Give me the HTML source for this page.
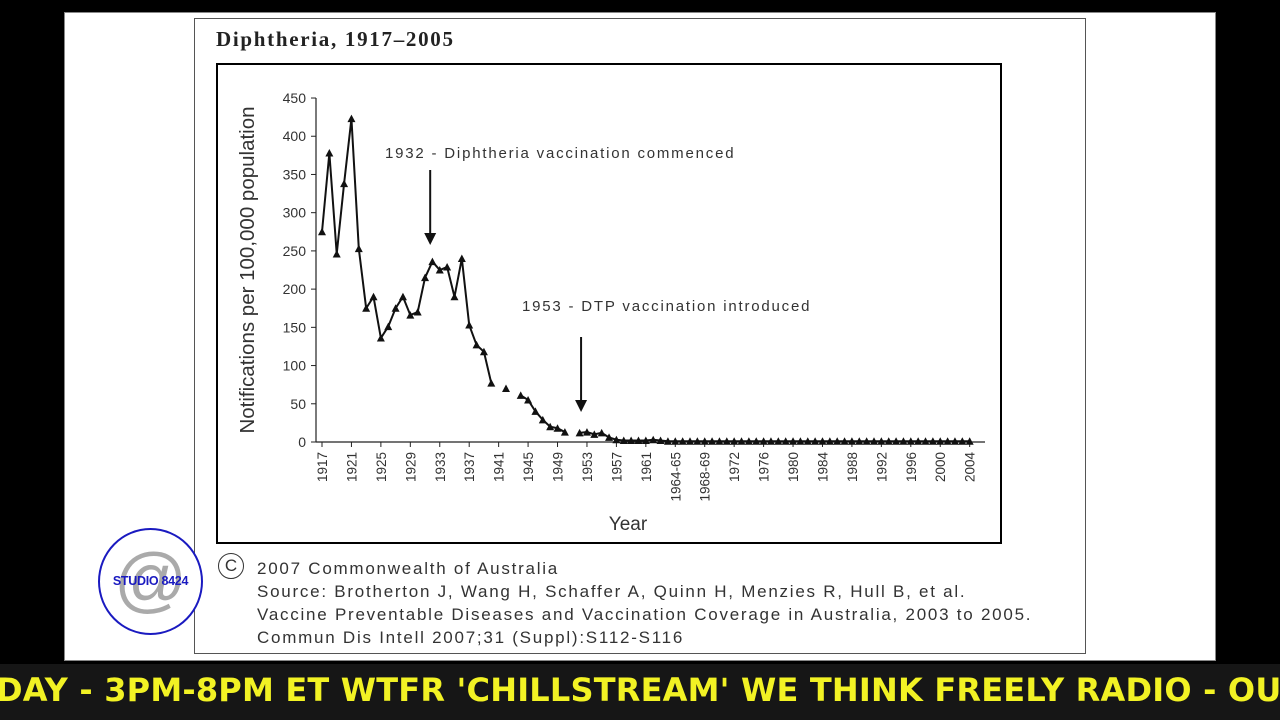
<!DOCTYPE html>
<html><head><meta charset="utf-8"><style>
body{margin:0;width:1280px;height:720px;background:#000;overflow:hidden;position:relative;font-family:"Liberation Sans",sans-serif}
.abs{position:absolute}
</style></head><body>
<div class="abs" style="left:64px;top:12px;width:1150px;height:647px;background:#fff;border:1px solid #888"></div>
<div class="abs" style="left:194px;top:18px;width:890px;height:634px;background:#fff;border:1px solid #555"></div>
<div class="abs" style="left:216px;top:27px;font-family:'Liberation Serif',serif;font-weight:bold;font-size:21px;letter-spacing:1.7px;color:#222">Diphtheria, 1917–2005</div>
<div class="abs" style="left:216px;top:63px;width:782px;height:477px;border:2.5px solid #000"></div>
<svg class="abs" style="left:0;top:0" width="1280" height="720" id="chart"></svg>
<div class="abs" style="left:257px;top:557px;font-size:17px;line-height:23px;color:#333;letter-spacing:1.75px">2007 Commonwealth of Australia<br>Source: Brotherton J, Wang H, Schaffer A, Quinn H, Menzies R, Hull B, et al.<br>Vaccine Preventable Diseases and Vaccination Coverage in Australia, 2003 to 2005.<br>Commun Dis Intell 2007;31 (Suppl):S112-S116</div>
<div class="abs" style="left:218px;top:553px;width:24px;height:24px;border:1.5px solid #333;border-radius:50%;text-align:center;line-height:24px;font-size:17px;color:#333">C</div>
<div class="abs" style="left:98px;top:528px;width:101px;height:103px;border:2px solid #1a1ac0;border-radius:50%;background:#fff">
<div class="abs" style="left:0;top:8px;width:101px;text-align:center;font-size:72px;color:#aaa;line-height:84px">@</div>
<div class="abs" style="left:0;top:44px;width:101px;text-align:center;font-size:12.5px;font-weight:bold;color:#1a1ac0;letter-spacing:-0.3px">STUDIO 8424</div></div>
<div class="abs" style="left:0;top:664px;width:1280px;height:56px;background:#161616"></div>
<div class="abs" style="left:-4px;top:668px;white-space:nowrap;font-family:'DejaVu Sans',sans-serif;font-weight:bold;font-size:32px;letter-spacing:0.2px;color:#f2f224;line-height:44px">DAY - 3PM-8PM ET WTFR 'CHILLSTREAM' WE THINK FREELY RADIO - OUR</div>
<script>
const categories=[];for(let y=1917;y<=2005;y++)categories.push(y);
const values=[275,378,246,338,423,253,175,190,136,151,175,190,166,170,215,236,225,229,190,240,153,127,118,77,null,70,null,61,55,40,29,20,18,13,null,12,13,10,12,6,3,2,2,2,2,3,2,1,1,1,1,1,1,1,1,1,1,1,1,1,1,1,1,1,1,1,1,1,1,1,1,1,1,1,1,1,1,1,1,1,1,1,1,1,1,1,1,1,1];
const yTicks=[0,50,100,150,200,250,300,350,400,450];
const xTickIdx=[0,4,8,12,16,20,24,28,32,36,40,44,48,52,56,60,64,68,72,76,80,84,88];
const xTickLabels=["1917","1921","1925","1929","1933","1937","1941","1945","1949","1953","1957","1961","1964-65","1968-69","1972","1976","1980","1984","1988","1992","1996","2000","2004"];
const svg=document.getElementById('chart');const NS='http://www.w3.org/2000/svg';
const X=i=>322+i*7.36, Y=v=>442-v*0.7644;
function mk(t,a,txt){const e=document.createElementNS(NS,t);for(const k in a)e.setAttribute(k,a[k]);if(txt!==undefined)e.textContent=txt;svg.appendChild(e);return e;}
let e=mk('line',{x1:316,y1:98,x2:316,y2:442,stroke:'#222','stroke-width':1.2});


e=mk('line',{x1:316,y1:442,x2:985,y2:442,stroke:'#222','stroke-width':1.2});


yTicks.forEach(v=>{mk('line',{x1:311,y1:Y(v),x2:316,y2:Y(v),stroke:'#222'});
e=mk('text',{x:306,y:Y(v)+5,'text-anchor':'end','font-size':14,fill:'#333'},v);

});
xTickIdx.forEach((i,k)=>{mk('line',{x1:X(i),y1:442,x2:X(i),y2:447,stroke:'#222'});
e=mk('text',{x:0,y:0,'text-anchor':'end','font-size':13.5,fill:'#333',transform:`translate(${X(i)+5},452) rotate(-90)`},xTickLabels[k]);

});
let segs=[],cur=[];values.forEach((v,i)=>{if(v===null){if(cur.length)segs.push(cur);cur=[];}else cur.push([X(i),Y(v)]);});if(cur.length)segs.push(cur);
segs.forEach(s=>{if(s.length>1){e=mk('polyline',{points:s.map(p=>p.join(',')).join(' '),fill:'none',stroke:'#111','stroke-width':2});

}});
values.forEach((v,i)=>{if(v===null)return;const x=X(i),y=Y(v);
e=mk('polygon',{points:`${x-4},${y+3.5} ${x+4},${y+3.5} ${x},${y-4}`,fill:'#111'});

});
e=mk('text',{x:0,y:0,'text-anchor':'middle','font-size':20.5,fill:'#333',transform:'translate(254,270) rotate(-90)'},'Notifications per 100,000 population');


e=mk('text',{x:628,y:530,'text-anchor':'middle','font-size':19,fill:'#333'},'Year');


e=mk('text',{x:385,y:158,'font-size':15,fill:'#333','letter-spacing':'1.8'},'1932 - Diphtheria vaccination commenced');


e=mk('text',{x:522,y:311,'font-size':15,fill:'#333','letter-spacing':'1.8'},'1953 - DTP vaccination introduced');


[[X(14.7),170,245],[X(35.2),337,412]].forEach(a=>{mk('line',{x1:a[0],y1:a[1],x2:a[0],y2:a[2]-4,stroke:'#111','stroke-width':2});
e=mk('polygon',{points:`${a[0]-6},${a[2]-12} ${a[0]+6},${a[2]-12} ${a[0]},${a[2]}`,fill:'#111'});

});
</script>
</body></html>
